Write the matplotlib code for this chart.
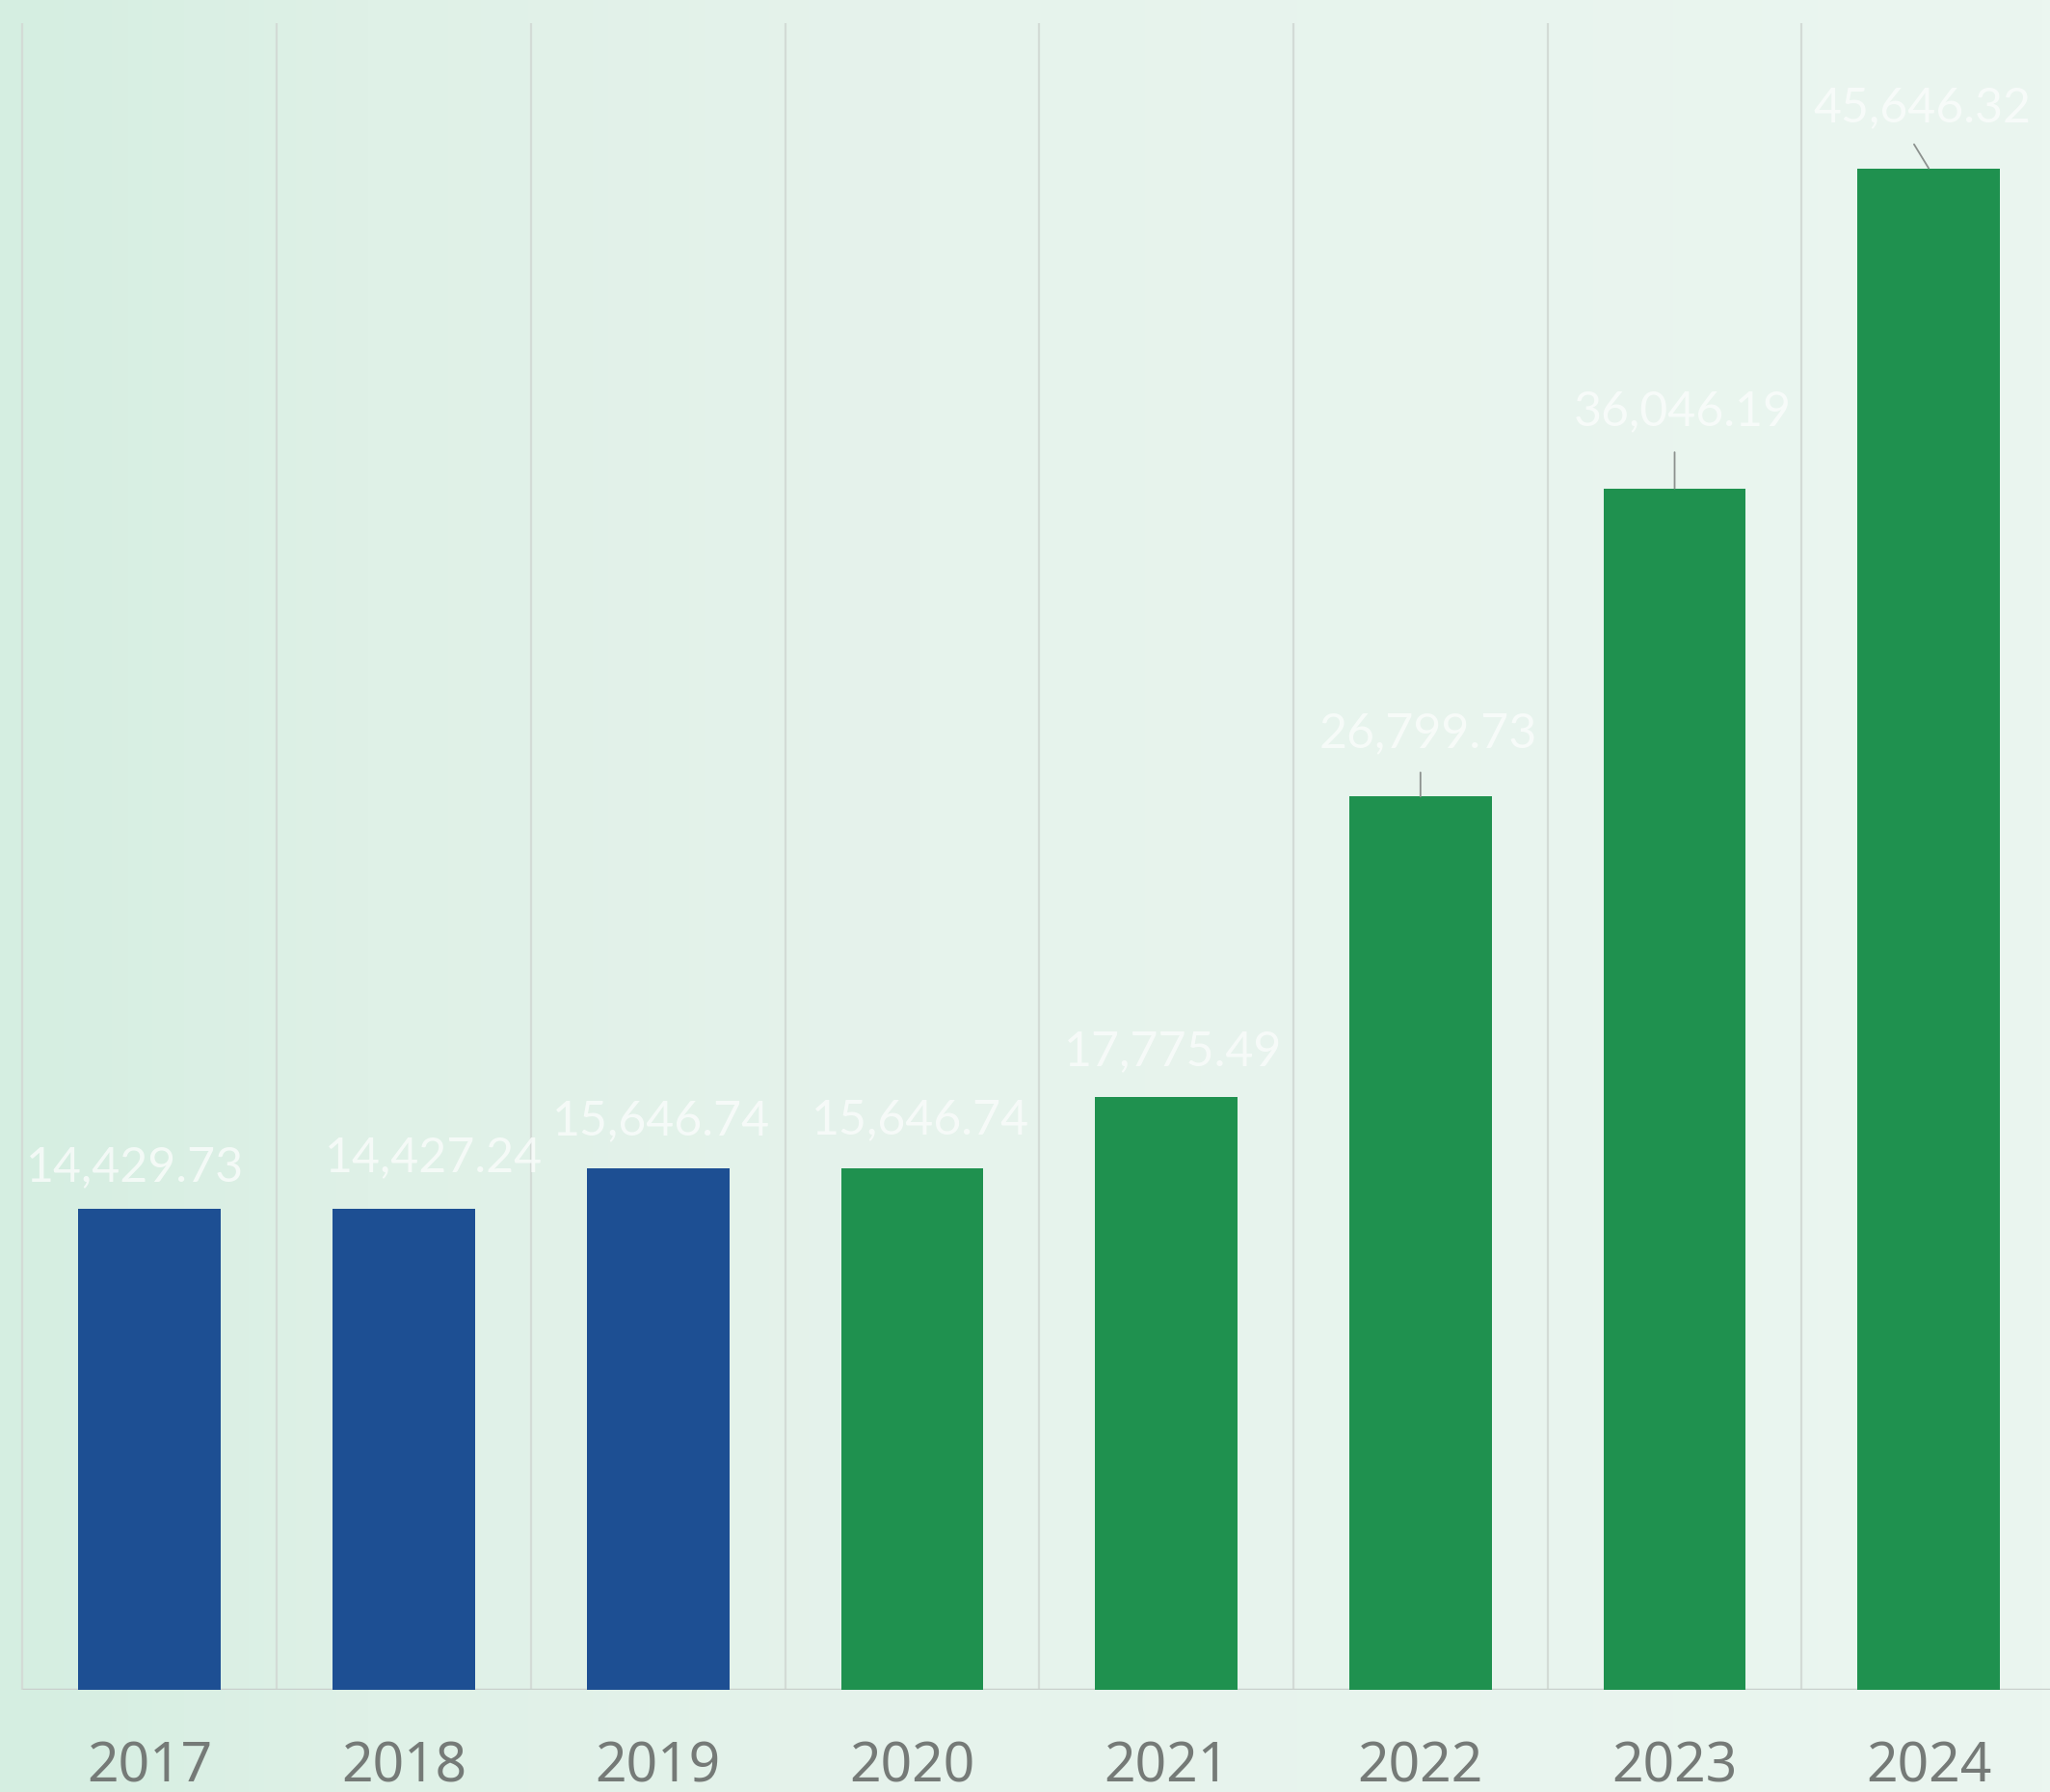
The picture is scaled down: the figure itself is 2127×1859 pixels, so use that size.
"""Bar chart of yearly values, blue up to 2019 and green from 2020."""

import numpy as np
import matplotlib

matplotlib.use("Agg")
import matplotlib.pyplot as plt
from matplotlib.colors import LinearSegmentedColormap

# data
years = ["2017", "2018", "2019", "2020", "2021", "2022", "2023", "2024"]
values = [14429.73, 14427.24, 15646.74, 15646.74, 17775.49, 26799.73, 36046.19, 45646.32]
labels = ["14,429.73", "14,427.24", "15,646.74", "15,646.74", "17,775.49",
          "26,799.73", "36,046.19", "45,646.32"]
first_green_year = 2020

# label placement (points), Excel-style nudged data labels
label_dx = [-11, 22, 2, 6, 5, 6, 6, -5]
label_dy = [31, 38, 35, 36, 34, 47, 57, 45]
# leader lines: start offset (points) relative to the bar top, None = no leader
leader_start = [None, None, None, None, None, (0, 18), (0, 27), (-11, 18)]

BLUE = "#1d4f93"
GREEN = "#1f914f"
GRID = "#d3dbd6"
TICK_COLOR = "#757a77"

W, H, DPI = 2127, 1859, 100
fig = plt.figure(figsize=(W / DPI, H / DPI), dpi=DPI)

# background gradient, mint on the left fading to a pale tint
bg = fig.add_axes([0, 0, 1, 1], zorder=-1)
bg_cmap = LinearSegmentedColormap.from_list(
    "bg", [(0.0, "#d5eee1"), (0.18, "#dff1e7"), (0.45, "#e6f3ec"), (1.0, "#ebf6f0")])
grad = np.linspace(0, 1, 512).reshape(1, -1)
bg.imshow(grad, aspect="auto", cmap=bg_cmap, extent=[0, 1, 0, 1])
bg.set_axis_off()

ax = fig.add_axes([0, 0.057, 1, 0.930])
ax.set_facecolor("none")
x = np.arange(len(years))
colors = [BLUE if int(y) < first_green_year else GREEN for y in years]
ax.bar(x, values, width=0.56, color=colors, zorder=3)

ax.set_xlim(-0.589, 7.477)
ax.set_ylim(0, 50000)

# vertical separators between categories and the baseline
for b in np.arange(-0.5, len(years) - 0.5, 1.0):
    ax.axvline(b, color=GRID, lw=1.6, zorder=1)
ax.hlines(0, -0.5, 7.6, color="#c9d0cc", lw=2.5, zorder=2)

for i, (v, lab) in enumerate(zip(values, labels)):
    ax.annotate(lab, xy=(i, v), xytext=(label_dx[i], label_dy[i]),
                textcoords="offset points", ha="center", va="center",
                fontsize=36, family="Lato", color="#fbfdfc", alpha=0.8,
                zorder=4)
    if leader_start[i] is not None:
        ax.annotate("", xy=(i, v), xytext=leader_start[i],
                    textcoords="offset points",
                    arrowprops=dict(arrowstyle="-", color="#8c918e", lw=1.3,
                                    shrinkA=0, shrinkB=0), zorder=4)

ax.set_xticks(x, years)
ax.tick_params(axis="x", length=0, pad=38, labelsize=41, labelcolor=TICK_COLOR)
for t in ax.get_xticklabels():
    t.set_family("Noto Sans")
    t.set_fontweight("light")
ax.set_yticks([])
for s in ax.spines.values():
    s.set_visible(False)

fig.savefig("out.png", dpi=DPI)
